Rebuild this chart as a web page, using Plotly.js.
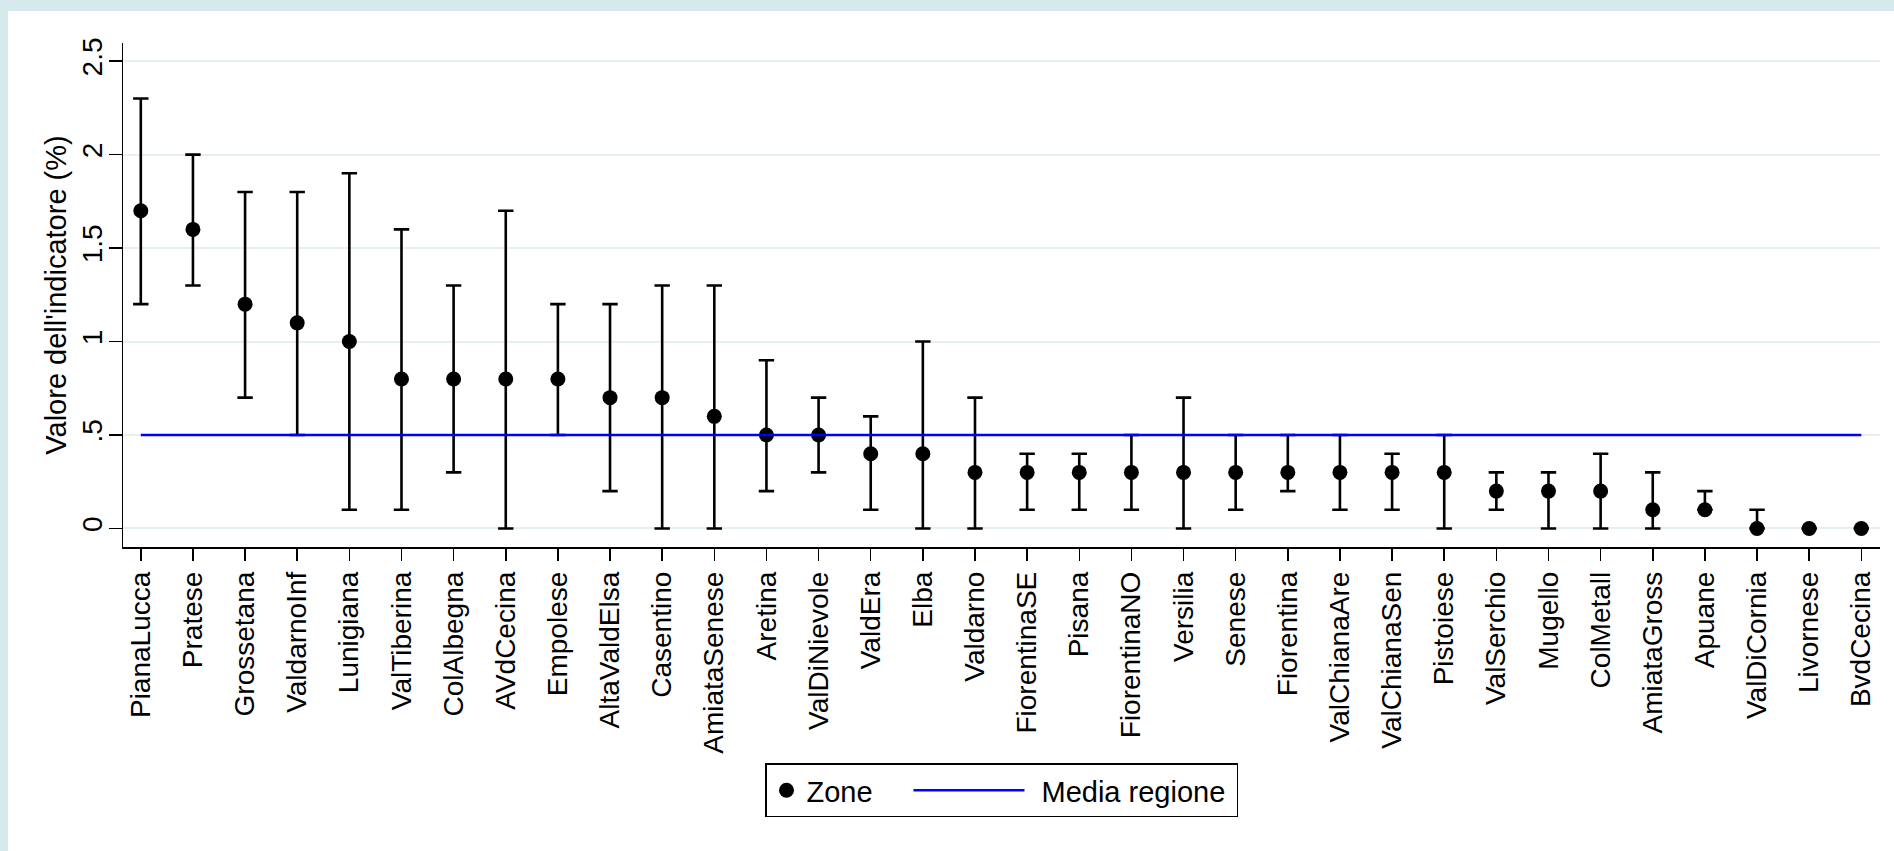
<!DOCTYPE html>
<html>
<head>
<meta charset="utf-8">
<script src="https://cdn.plot.ly/plotly-3.0.1.min.js"></script>
<style>
  html, body { margin: 0; padding: 0; width: 1894px; height: 851px; background: #ffffff; overflow: hidden; }
  #bandTop { position: absolute; left: 0; top: 0; width: 1894px; height: 11px; background: #D6EAEE; }
  #bandLeft { position: absolute; left: 0; top: 0; width: 8px; height: 851px; background: #D6EAEE; }
  #chart { position: absolute; left: 8px; top: 11px; width: 1886px; height: 840px; }
</style>
</head>
<body>
<div id="bandTop"></div>
<div id="bandLeft"></div>
<div id="chart"></div>
<script>
// ---- data ----
const zones = ["PianaLucca","Pratese","Grossetana","ValdarnoInf","Lunigiana","ValTiberina","ColAlbegna","AVdCecina","Empolese","AltaValdElsa","Casentino","AmiataSenese","Aretina","ValDiNievole","ValdEra","Elba","Valdarno","FiorentinaSE","Pisana","FiorentinaNO","Versilia","Senese","Fiorentina","ValChianaAre","ValChianaSen","Pistoiese","ValSerchio","Mugello","ColMetall","AmiataGross","Apuane","ValDiCornia","Livornese","BvdCecina"];
const values = [1.7,1.6,1.2,1.1,1.0,0.8,0.8,0.8,0.8,0.7,0.7,0.6,0.5,0.5,0.4,0.4,0.3,0.3,0.3,0.3,0.3,0.3,0.3,0.3,0.3,0.3,0.2,0.2,0.2,0.1,0.1,0.0,0.0,0.0];
const lower  = [1.2,1.3,0.7,0.5,0.1,0.1,0.3,0.0,0.5,0.2,0.0,0.0,0.2,0.3,0.1,0.0,0.0,0.1,0.1,0.1,0.0,0.1,0.2,0.1,0.1,0.0,0.1,0.0,0.0,0.0,0.1,0.0,0.0,0.0];
const upper  = [2.3,2.0,1.8,1.8,1.9,1.6,1.3,1.7,1.2,1.2,1.3,1.3,0.9,0.7,0.6,1.0,0.7,0.4,0.4,0.5,0.7,0.5,0.5,0.5,0.4,0.5,0.3,0.3,0.4,0.3,0.2,0.1,0.0,0.0];
const regionMean = 0.5;
const yTickVals = [0, 0.5, 1, 1.5, 2, 2.5];
const yTickText = ["0", ".5", "1", "1.5", "2", "2.5"];

const FONT = "Liberation Sans, Arial, Helvetica, sans-serif";

const zoneTrace = {
  type: "scatter", mode: "markers", name: "Zone",
  x: zones, y: values,
  marker: { color: "#000000", size: 15 },
  error_y: {
    type: "data", symmetric: false,
    array: upper.map((u, i) => +(u - values[i]).toFixed(3)),
    arrayminus: lower.map((l, i) => +(values[i] - l).toFixed(3)),
    color: "#000000", thickness: 2.6, width: 7.7
  },
  hoverinfo: "x+y"
};

const meanTrace = {
  type: "scatter", mode: "lines", name: "Media regione",
  x: zones, y: zones.map(() => regionMean),
  line: { color: "#0000FF", width: 2.4 },
  hoverinfo: "y"
};

const layout = {
  width: 1886, height: 840,
  paper_bgcolor: "#ffffff", plot_bgcolor: "#ffffff",
  margin: { l: 115.3, r: 14, t: 31.5, b: 304.4, pad: 0 },
  font: { family: FONT, color: "#000000", size: 28 },
  showlegend: true,
  legend: {
    orientation: "h", x: 0.5, xanchor: "center", y: -0.4293, yanchor: "top",
    bordercolor: "#000000", borderwidth: 1.5, bgcolor: "#ffffff",
    font: { family: FONT, size: 29, color: "#000000" },
    entrywidthmode: "pixels", entrywidth: 190
  },
  xaxis: {
    type: "category",
    range: [-0.3415, 33.3585],
    showgrid: false, zeroline: false,
    showline: true, linecolor: "#000000", linewidth: 1.5,
    ticks: "outside", ticklen: 12, tickwidth: 1.5, tickcolor: "#000000",
    tickangle: -90,
    tickfont: { family: FONT, size: 28, color: "#000000" }
  },
  yaxis: {
    range: [-0.099, 2.597],
    tickmode: "array", tickvals: yTickVals, ticktext: yTickText,
    showgrid: true, gridcolor: "#E6EFF1", gridwidth: 2,
    zeroline: false,
    showline: true, linecolor: "#000000", linewidth: 1.5,
    ticks: "outside", ticklen: 12.5, tickwidth: 1.5, tickcolor: "#000000",
    tickangle: -90, ticklabelstandoff: -4,
    tickfont: { family: FONT, size: 28, color: "#000000" },
    title: { text: "Valore dell'indicatore (%)", font: { family: FONT, size: 29, color: "#000000" }, standoff: 1 }
  }
};

// Lengthen the legend's line sample to match the reference (a long sample line ending just before its label)
function styleLegendLine() {
  const gd = document.getElementById("chart");
  const items = gd.querySelectorAll(".legend .traces");
  items.forEach(function (item) {
    const line = item.querySelector("path.js-line");
    const txt = item.querySelector("text.legendtext");
    if (!line || !txt) return;
    const lb = line.getBoundingClientRect();
    const tb = txt.getBoundingClientRect();
    const desiredEnd = tb.left - 17;
    const desiredLen = 111;
    const shift = (desiredEnd - desiredLen) - lb.left;
    const m = /M\s*(-?[\d.]+)[ ,](-?[\d.]+)/.exec(line.getAttribute("d") || "");
    const x0 = m ? parseFloat(m[1]) : 5;
    line.setAttribute("d", "M" + (x0 + shift) + ",0h" + desiredLen);
  });
}

Plotly.newPlot("chart", [zoneTrace, meanTrace], layout, { displayModeBar: false, staticPlot: true })
  .then(styleLegendLine);
</script>
</body>
</html>
